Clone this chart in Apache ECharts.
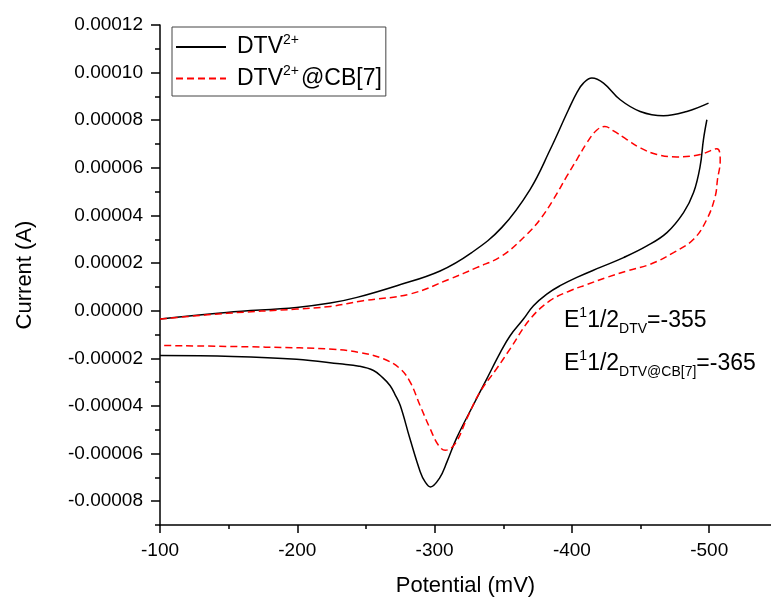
<!DOCTYPE html>
<html>
<head>
<meta charset="utf-8">
<script src="https://cdn.jsdelivr.net/npm/echarts@6/dist/echarts.min.js"></script>
<style>
html, body { margin: 0; padding: 0; background: #fff; }
#chart { width: 771px; height: 602px; }
</style>
</head>
<body>
<div id="chart"></div>
<script>
// potential (mV) and current (A)
var dtvFwdE = [-100, -148.5, -199.5, -224, -243.5, -272.5, -304, -327, -349, -369.5, -384.2, -397.5, -404, -408.4, -414.5, -423, -435.2, -449.7, -466.7, -483.7, -499.5];
var dtvFwdI = [-0.35e-5, -0.07e-5, 0.14e-5, 0.32e-5, 0.56e-5, 1.05e-5, 1.67e-5, 2.44e-5, 3.5e-5, 5.09e-5, 6.77e-5, 8.44e-5, 9.2e-5, 9.56e-5, 9.77e-5, 9.56e-5, 8.86e-5, 8.37e-5, 8.19e-5, 8.37e-5, 8.72e-5];

var dtvRevE = [-498.3, -495.8, -493.4, -488.6, -481.3, -469.2, -454.6, -437.6, -420.6, -403.6, -391.4, -381.7, -372, -364.7, -355, -348, -338, -328, -316, -309, -303.5, -297, -293, -289.5, -282, -275, -271, -267.5, -262, -255.5, -245, -231, -199.5, -153, -100];
var dtvRevI = [8.02e-5, 7.19e-5, 6.07e-5, 4.96e-5, 4.12e-5, 3.28e-5, 2.72e-5, 2.23e-5, 1.82e-5, 1.4e-5, 1.05e-5, 0.7e-5, 0.21e-5, -0.35e-5, -1.05e-5, -1.74e-5, -2.86e-5, -3.98e-5, -5.35e-5, -6.35e-5, -7.04e-5, -7.4e-5, -7.18e-5, -6.76e-5, -5.37e-5, -3.98e-5, -3.5e-5, -3.14e-5, -2.8e-5, -2.51e-5, -2.33e-5, -2.23e-5, -2.04e-5, -1.92e-5, -1.88e-5];

var cbE = [-100, -148.5, -199.5, -224, -248, -282, -311, -331, -349, -367.2, -376.9, -386.6, -396.3, -403.6, -410.9, -418, -424, -430.3, -440, -449.7, -461.9, -476.5, -493.4, -505.6,
           -508, -506, -504.4, -498.3, -488.6, -474, -457, -440, -425.5, -411, -398.7, -384, -369.6, -355, -345, -333, -323.5, -315, -307.7, -302.8, -296.7, -289.4, -282.2, -274.9, -262.7, -245, -226, -177, -100];
var cbI = [-0.35e-5, -0.11e-5, 0.07e-5, 0.18e-5, 0.42e-5, 0.7e-5, 1.33e-5, 1.82e-5, 2.3e-5, 3.21e-5, 3.84e-5, 4.68e-5, 5.65e-5, 6.35e-5, 7.05e-5, 7.58e-5, 7.74e-5, 7.55e-5, 7.19e-5, 6.84e-5, 6.56e-5, 6.46e-5, 6.56e-5, 6.8e-5,
           6.3e-5, 5.5e-5, 4.81e-5, 3.84e-5, 3.0e-5, 2.44e-5, 1.95e-5, 1.67e-5, 1.4e-5, 1.1e-5, 0.84e-5, 0.42e-5, -0.35e-5, -1.6e-5, -2.45e-5, -3.42e-5, -4.53e-5, -5.58e-5, -5.86e-5, -5.65e-5, -4.95e-5, -3.98e-5, -3.0e-5, -2.44e-5, -2.02e-5, -1.75e-5, -1.62e-5, -1.53e-5, -1.46e-5];

var xMajor = [-100, -200, -300, -400, -500];
var xMinor = [-150, -250, -350, -450];
var yMajor = [-0.00008, -0.00006, -0.00004, -0.00002, 0, 0.00002, 0.00004, 0.00006, 0.00008, 0.0001, 0.00012];
var yMinor = [-0.00009, -0.00007, -0.00005, -0.00003, -0.00001, 0.00001, 0.00003, 0.00005, 0.00007, 0.00009, 0.00011];

function pairs(e, i) {
    return e.map(function (v, k) { return [v, i[k]]; });
}

var font = 'Liberation Sans, Arial, sans-serif';
var supRich = {
    g: { width: 6 },
    n: { fontSize: 23, fontFamily: font, color: '#000', lineHeight: 28 },
    c: { fontSize: 23, fontFamily: font, color: '#000', lineHeight: 28, padding: [0, 0, 0, 2] },
    s: { fontSize: 14, fontFamily: font, color: '#000', verticalAlign: 'top', lineHeight: 14 }
};
var noteRich = {
    e: { fontSize: 23, fontFamily: font, color: '#000', lineHeight: 30 },
    sp: { fontSize: 14, fontFamily: font, color: '#000', verticalAlign: 'top', lineHeight: 14 },
    sb: { fontSize: 14, fontFamily: font, color: '#000', verticalAlign: 'bottom', lineHeight: 14 }
};

var line = { color: '#000', width: 1.5 };

echarts.init(document.getElementById('chart')).setOption({
    animation: false,
    grid: { left: 160, right: 0, top: 25, bottom: 75 },
    legend: {
        data: ['DTV', 'CB'],
        orient: 'vertical',
        left: 172,
        top: 27,
        padding: [6, 4, 6, 3],
        itemGap: 6,
        itemWidth: 50,
        itemHeight: 14,
        borderColor: '#444',
        borderWidth: 1,
        itemStyle: { opacity: 0 },
        formatter: function (name) {
            return name === 'DTV' ? '{g|}{n|DTV}{s|2+}' : '{g|}{n|DTV}{s|2+}{c|@CB[7]}';
        },
        textStyle: { fontSize: 23, fontFamily: font, color: '#000', rich: supRich }
    },
    xAxis: [
        {
            type: 'value',
            inverse: true,
            min: -545,
            max: -100,
            position: 'bottom',
            name: 'Potential (mV)',
            nameLocation: 'middle',
            nameGap: 50,
            nameTextStyle: { fontSize: 22, fontFamily: font, color: '#000' },
            axisLine: { onZero: false, lineStyle: line },
            axisTick: { customValues: xMajor, length: 8, lineStyle: line },
            axisLabel: { customValues: xMajor, fontSize: 19, fontFamily: font, color: '#000', margin: 16 },
            splitLine: { show: false }
        },
        {
            type: 'value',
            inverse: true,
            min: -545,
            max: -100,
            position: 'bottom',
            axisLine: { show: false, onZero: false },
            axisTick: { customValues: xMinor, length: 4, lineStyle: line },
            axisLabel: { show: false },
            splitLine: { show: false }
        }
    ],
    yAxis: [
        {
            type: 'value',
            min: -0.00009,
            max: 0.00012,
            position: 'left',
            name: 'Current (A)',
            nameLocation: 'middle',
            nameGap: 124,
            nameTextStyle: { fontSize: 22, fontFamily: font, color: '#000' },
            axisLine: { show: true, onZero: false, lineStyle: line },
            axisTick: { show: true, customValues: yMajor, length: 9, lineStyle: line },
            axisLabel: {
                customValues: yMajor,
                fontSize: 19,
                fontFamily: font,
                color: '#000',
                margin: 17,
                formatter: function (v) { return v.toFixed(5); }
            },
            splitLine: { show: false }
        },
        {
            type: 'value',
            min: -0.00009,
            max: 0.00012,
            position: 'left',
            axisLine: { show: false, onZero: false },
            axisTick: { show: true, customValues: yMinor, length: 5, lineStyle: line },
            axisLabel: { show: false },
            splitLine: { show: false }
        }
    ],
    graphic: [
        {
            type: 'text',
            left: 564,
            top: 306,
            style: { text: '{e|E}{sp|1}{e|1/2}{sb|DTV}{e|=-355}', rich: noteRich }
        },
        {
            type: 'text',
            left: 564,
            top: 349,
            style: { text: '{e|E}{sp|1}{e|1/2}{sb|DTV@CB[7]}{e|=-365}', rich: noteRich }
        }
    ],
    series: [
        {
            name: 'DTV',
            type: 'line',
            data: pairs(dtvFwdE, dtvFwdI),
            smooth: 0.4,
            symbol: 'none',
            lineStyle: line,
            itemStyle: { color: '#000' }
        },
        {
            name: 'DTV',
            type: 'line',
            data: pairs(dtvRevE, dtvRevI),
            smooth: 0.4,
            symbol: 'none',
            lineStyle: line,
            itemStyle: { color: '#000' }
        },
        {
            name: 'CB',
            type: 'line',
            data: pairs(cbE, cbI),
            smooth: 0.4,
            symbol: 'none',
            lineStyle: { color: '#f00', width: 1.5, type: [7, 4] },
            itemStyle: { color: '#f00' }
        }
    ]
});
</script>
</body>
</html>
